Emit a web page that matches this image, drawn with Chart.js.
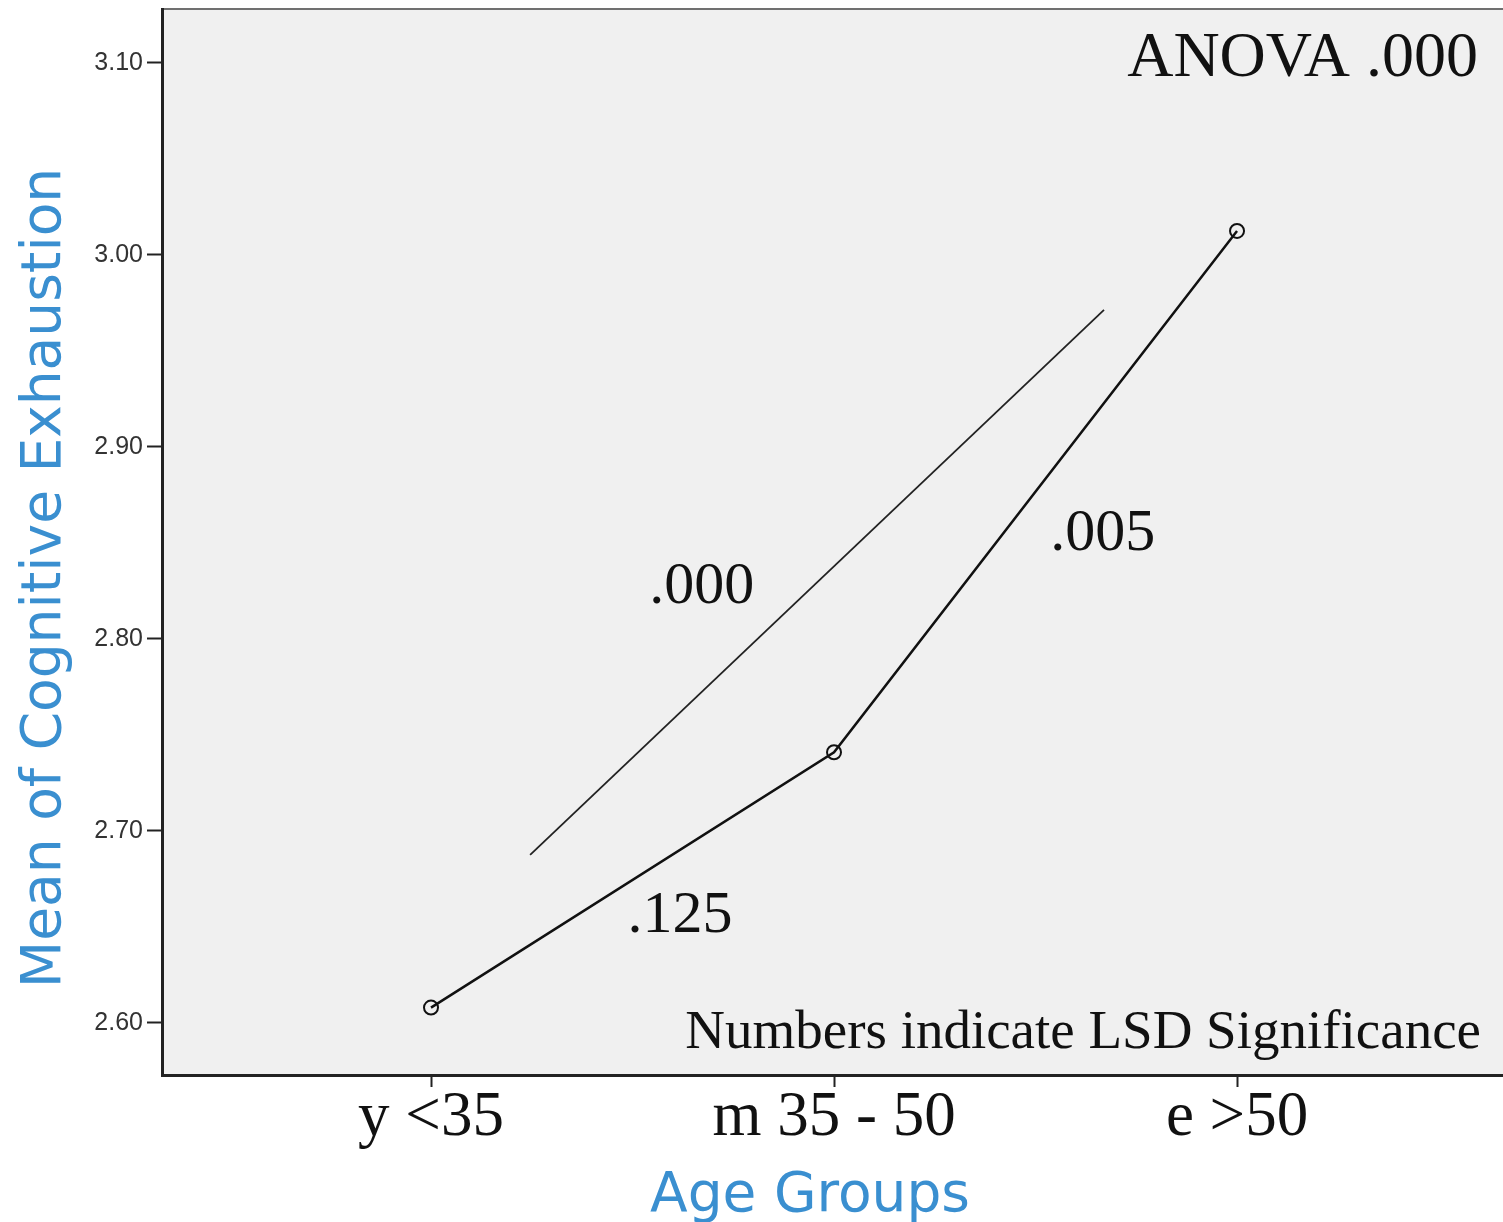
<!DOCTYPE html>
<html>
<head>
<meta charset="utf-8">
<script src="https://cdn.jsdelivr.net/npm/chart.js@4.4.1/dist/chart.umd.min.js"></script>
<style>
  html, body { margin: 0; padding: 0; background: #fff; overflow: hidden; }
  canvas { display: block; }
</style>
</head>
<body>
<canvas id="chart" width="1503" height="1222"></canvas>
<script>
const categories = ['y <35', 'm 35 - 50', 'e >50'];
const meanValues = [2.608, 2.741, 3.0125];
const yTicks = [2.6, 2.7, 2.8, 2.9, 3.0, 3.1];

// thin comparison line between young and elderly groups
const trendX = [0.246, 1.67];
const trendY = [2.6875, 2.9714];

// LSD significance labels
const lsdLabels = ['.125', '.000', '.005'];
const lsdX = [0.618, 0.672, 1.667];
const lsdY = [2.6474, 2.8188, 2.8464];

const anovaNote = 'ANOVA .000';
const lsdNote = 'Numbers indicate LSD Significance';

const titleBlue = '#3a8fd0';
const serif = '"Liberation Serif", "Times New Roman", serif';

const plotDecor = {
    id: 'plotDecor',
    beforeDraw(chart) {
        const { ctx, chartArea: a } = chart;
        ctx.save();
        ctx.fillStyle = '#f0f0f0';
        ctx.fillRect(a.left, a.top, a.right - a.left, a.bottom - a.top);
        ctx.strokeStyle = '#707070';
        ctx.lineWidth = 2;
        ctx.beginPath();
        ctx.moveTo(a.left, a.top);
        ctx.lineTo(a.right, a.top);
        ctx.stroke();
        ctx.restore();
    },
    afterDraw(chart) {
        const { ctx, chartArea: a } = chart;
        const x = chart.scales.x;
        const y = chart.scales.y;
        ctx.save();

        // axis titles
        ctx.fillStyle = titleBlue;
        ctx.font = '55px "DejaVu Sans", sans-serif';
        ctx.textAlign = 'center';
        ctx.textBaseline = 'alphabetic';
        ctx.fillText('Age Groups', 810, 1211);
        ctx.save();
        ctx.translate(60, 578);
        ctx.rotate(-Math.PI / 2);
        ctx.fillText('Mean of Cognitive Exhaustion', 0, 0);
        ctx.restore();

        // significance labels
        ctx.fillStyle = '#111';
        ctx.font = '60px ' + serif;
        lsdLabels.forEach((label, i) => {
            ctx.fillText(label, x.getPixelForValue(lsdX[i]), y.getPixelForValue(lsdY[i]));
        });

        ctx.textAlign = 'right';
        ctx.font = '64px ' + serif;
        ctx.fillText(anovaNote, a.right - 25, a.top + 67);
        ctx.font = '55px ' + serif;
        ctx.fillText(lsdNote, a.right - 22, a.bottom - 27);

        ctx.restore();
    },
};

new Chart(document.getElementById('chart'), {
    type: 'line',
    data: {
        datasets: [
            {
                data: meanValues.map((v, i) => ({ x: i, y: v })),
                borderColor: '#111',
                borderWidth: 2.5,
                pointRadius: 7,
                pointBorderWidth: 2,
                pointBackgroundColor: 'rgba(0,0,0,0)',
                pointBorderColor: '#111',
                tension: 0,
            },
            {
                data: trendX.map((v, i) => ({ x: v, y: trendY[i] })),
                borderColor: '#222',
                borderWidth: 1.8,
                pointRadius: 0,
                tension: 0,
            },
        ],
    },
    options: {
        responsive: false,
        animation: false,
        layout: {
            autoPadding: false,
            padding: { top: 9, right: 0, left: 0, bottom: 0 },
        },
        plugins: {
            legend: { display: false },
            tooltip: { enabled: false },
        },
        scales: {
            x: {
                type: 'linear',
                min: -0.6675,
                max: 2.66,
                afterBuildTicks: (scale) => {
                    scale.ticks = categories.map((_, i) => ({ value: i }));
                },
                afterFit: (scale) => {
                    scale.height = 147;
                },
                ticks: {
                    callback: (value) => categories[value],
                    font: { family: serif, size: 63 },
                    color: '#111',
                    padding: -6,
                    maxRotation: 0,
                    autoSkip: false,
                },
                grid: {
                    drawOnChartArea: false,
                    tickLength: 12,
                    tickColor: '#222',
                    tickWidth: 2,
                },
                border: { color: '#222', width: 3 },
            },
            y: {
                min: 2.5729,
                max: 3.1281,
                afterBuildTicks: (scale) => {
                    scale.ticks = yTicks.map((value) => ({ value }));
                },
                afterFit: (scale) => {
                    scale.width = 162;
                },
                ticks: {
                    callback: (value) => value.toFixed(2),
                    font: { family: '"Liberation Sans", Arial, sans-serif', size: 25, lineHeight: 0.4 },
                    color: '#333',
                    padding: 4,
                },
                grid: {
                    drawOnChartArea: false,
                    tickLength: 15,
                    tickColor: '#222',
                    tickWidth: 2,
                },
                border: { color: '#222', width: 3 },
            },
        },
    },
    plugins: [plotDecor],
});
</script>
</body>
</html>
